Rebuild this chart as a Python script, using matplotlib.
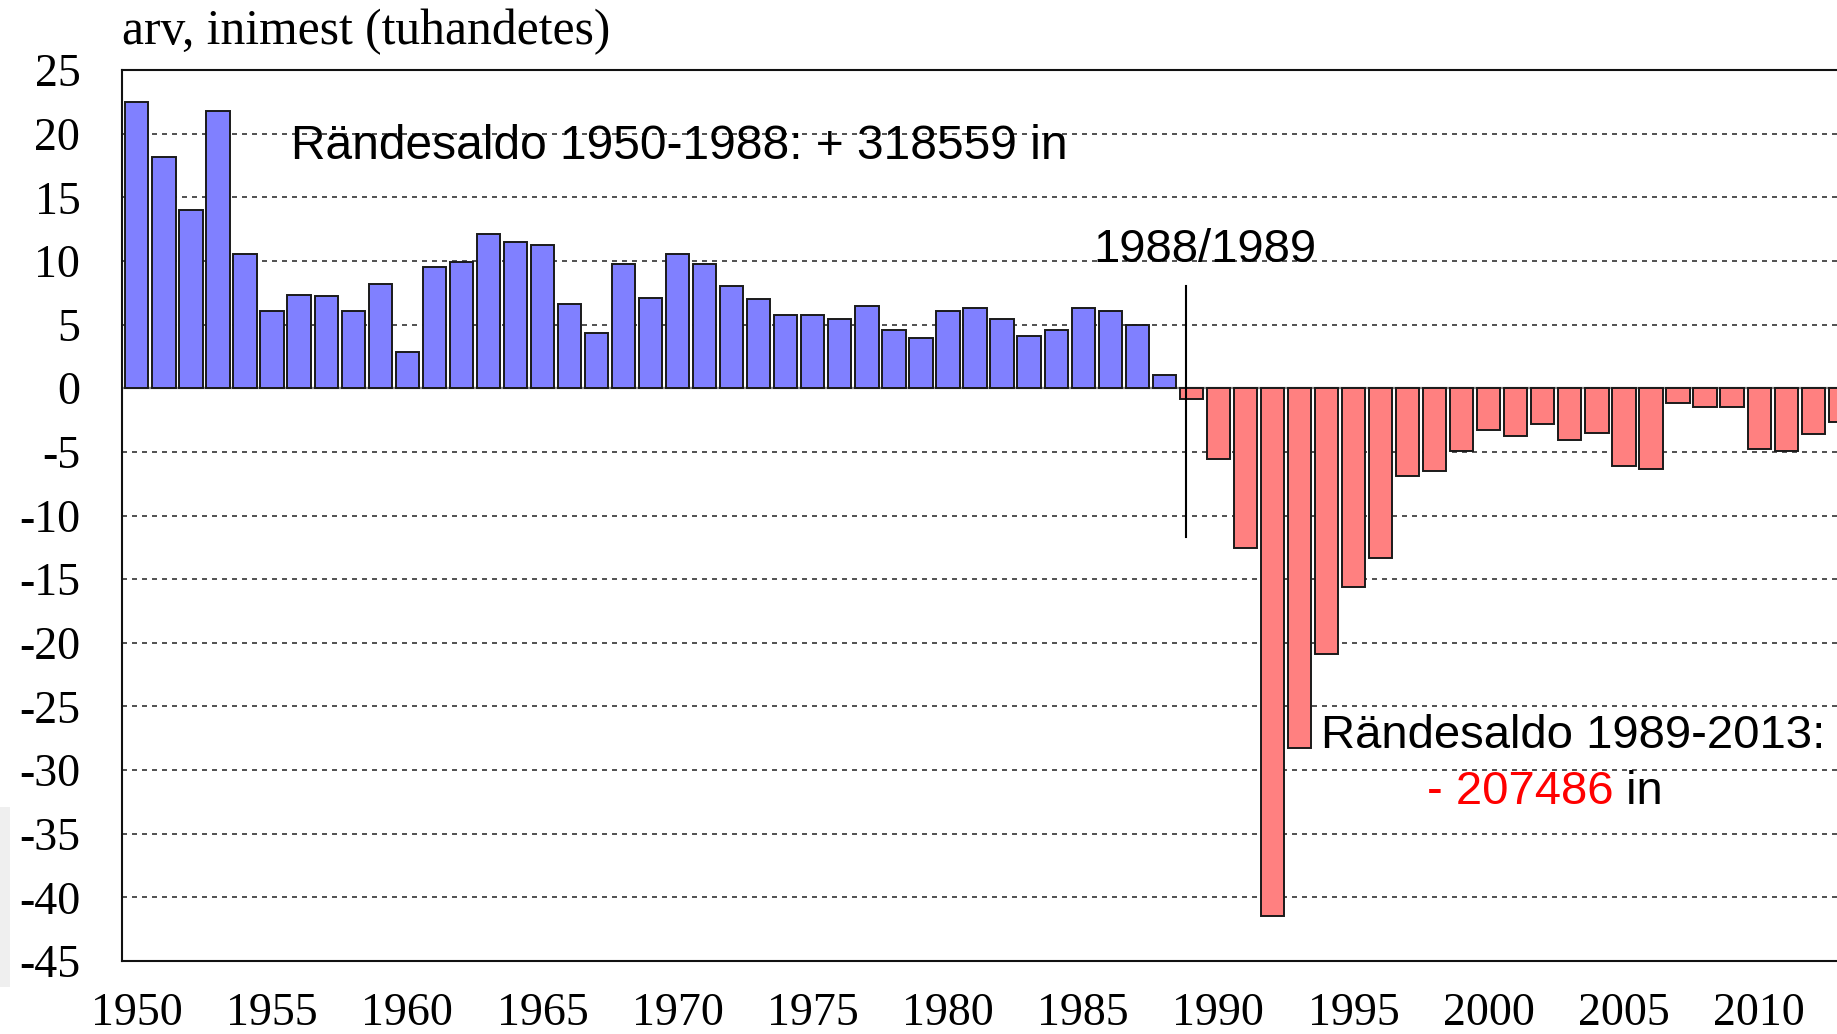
import matplotlib
matplotlib.use("Agg")
import matplotlib.pyplot as plt
from matplotlib.patches import Rectangle

plt.rcParams["axes.unicode_minus"] = False

# migration balance, thousands of people
years_pos = list(range(1950, 1989))
saldo_pos = [22.46, 18.2, 13.97, 21.78, 10.53, 6.05, 7.36, 7.23, 6.05, 8.15,
             2.86, 9.49, 9.9, 12.13, 11.48, 11.22, 6.58, 4.32, 9.75, 7.1,
             10.53, 9.75, 8.02, 6.97, 5.79, 5.79, 5.4, 6.45, 4.61, 3.95,
             6.05, 6.31, 5.4, 4.09, 4.61, 6.31, 6.05, 5.0, 1.05]
years_neg = list(range(1989, 2014))
saldo_neg = [-0.86, -5.57, -12.57, -41.5, -28.3, -20.9, -15.6, -13.35, -6.88, -6.49,
             -4.9, -3.3, -3.74, -2.8, -4.1, -3.53, -6.1, -6.36, -1.2, -1.49,
             -1.49, -4.76, -4.9, -3.59, -2.64]
yticks = list(range(-45, 30, 5))
xticks = list(range(1950, 2015, 5))

W, H = 1837, 1034
fig = plt.figure(figsize=(W / 100, H / 100), dpi=100)
ax = fig.add_axes([122 / W, 1 - 961 / H, 1 - 122 / W, (961 - 70) / H])

# grey strip at the far left edge of the original picture
fig.patches.append(Rectangle((0, 1 - 987 / H), 10 / W, 180 / H, transform=fig.transFigure,
                             facecolor="#efefef", edgecolor="none"))

ax.set_axisbelow(True)
ax.yaxis.grid(True, color="#333333", linestyle=(0, (3, 3)), linewidth=1.2)
ax.axhline(0, color="#888888", lw=1.6, zorder=1.5)

ax.bar(years_pos, saldo_pos, width=0.86, color="#8080ff", edgecolor="#1a1a1a", linewidth=1.4, zorder=2)
ax.bar(years_neg, saldo_neg, width=0.86, color="#ff8080", edgecolor="#1a1a1a", linewidth=1.4, zorder=2)

ax.set_xlim(1949.45, 2012.88)
ax.set_ylim(-45, 25)
ax.set_yticks(yticks)
ax.set_xticks(xticks)
ax.tick_params(axis="both", length=0)
ax.tick_params(axis="y", pad=30)
ax.tick_params(axis="x", pad=23)
for lab in ax.get_yticklabels():
    lab.set_fontfamily("Liberation Serif")
    lab.set_fontsize(33)
for lab in ax.get_xticklabels():
    lab.set_fontfamily("Liberation Serif")
    lab.set_fontsize(33)

for side in ["top", "left", "bottom"]:
    ax.spines[side].set_linewidth(1.5)
    ax.spines[side].set_color("#111111")
ax.spines["right"].set_visible(False)

fig.text(122 / W, 1 - 44 / H, "arv, inimest (tuhandetes)", fontfamily="Liberation Serif",
         fontsize=35.7, va="baseline", ha="left")

# divider line and annotations
ax.plot([1988.79, 1988.79], [8, -11.7], color="black", lw=1.5, zorder=3)
ax.text(1985.38, 10.85, "1988/1989", fontfamily="Liberation Sans", fontsize=34, va="center", ha="left", zorder=4)
ax.text(1955.7, 19.0, "Rändesaldo 1950-1988: + 318559 in", fontfamily="Liberation Sans",
        fontsize=34.5, va="center", ha="left", zorder=4)
ax.text(1993.8, -27.3, "Rändesaldo 1989-2013:", fontfamily="Liberation Sans",
        fontsize=34, va="center", ha="left", zorder=4)
t1 = ax.text(1997.7, -31.7, "- 207486", fontfamily="Liberation Sans", color="red",
             fontsize=34, va="center", ha="left", zorder=4)
ax.annotate(" in", xy=(1, 0), xycoords=t1, va="bottom", ha="left",
            fontfamily="Liberation Sans", fontsize=34, zorder=4)

fig.savefig("out.png", dpi=100)
